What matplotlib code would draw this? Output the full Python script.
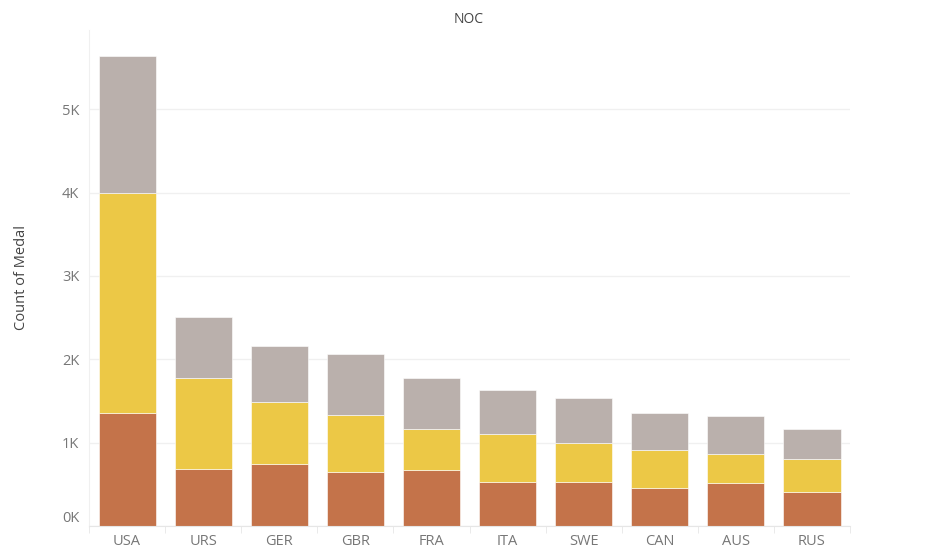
import matplotlib.pyplot as plt
from matplotlib.ticker import FuncFormatter

# medal counts per country (bronze bottom, gold middle, silver top)
countries = ["USA", "URS", "GER", "GBR", "FRA", "ITA", "SWE", "CAN", "AUS", "RUS"]
bronze = [1358, 689, 746, 651, 666, 531, 522, 451, 517, 408]
gold = [2638, 1082, 745, 678, 501, 575, 479, 463, 348, 390]
silver = [1641, 732, 674, 739, 610, 531, 535, 438, 455, 367]

plt.rcParams['font.family'] = ['Open Sans', 'DejaVu Sans']

fig = plt.figure(figsize=(9.47, 5.54), dpi=100)
ax = fig.add_axes([0.094, 0.0505, 0.8036, 0.8955])

x = range(len(countries))
bottom_gold = bronze
bottom_silver = [b + g for b, g in zip(bronze, gold)]

ax.bar(x, bronze, width=0.75, color="#c4734a", edgecolor="white", linewidth=0.4, zorder=2)
ax.bar(x, gold, width=0.75, bottom=bottom_gold, color="#ecc846", edgecolor="white", linewidth=0.4, zorder=2)
ax.bar(x, silver, width=0.75, bottom=bottom_silver, color="#bab0ac", edgecolor="white", linewidth=0.4, zorder=2)

ax.set_xlim(-0.5, len(countries) - 0.5)
ax.set_ylim(0, 5950)
ax.set_yticks([0, 1000, 2000, 3000, 4000, 5000])
ax.yaxis.set_major_formatter(FuncFormatter(lambda v, p: f"{int(v / 1000)}K"))
ax.grid(axis="y", color="#f0f0f0", linewidth=1, zorder=0)

ax.set_xticks(list(x))
ax.set_xticklabels(countries)
# small separators between categories
ax.set_xticks([i - 0.5 for i in range(len(countries) + 1)], minor=True)
ax.tick_params(axis="x", which="major", length=0, pad=6, labelsize=10.5, labelcolor="#777777")
ax.tick_params(axis="x", which="minor", length=5, color="#e6e6e6")
ax.tick_params(axis="y", length=0, pad=7, labelsize=10.5, labelcolor="#777777")
# Tableau keeps the zero label above the baseline
ax.get_yticklabels()[0].set_verticalalignment("bottom")

for s in ["top", "right"]:
    ax.spines[s].set_visible(False)
ax.spines["left"].set_color("#f0f0f0")
ax.spines["bottom"].set_color("#e6e6e6")

ax.set_ylabel("Count of Medal", fontsize=10.5, color="#444444", labelpad=24)
fig.text(0.495, 0.965, "NOC", ha="center", va="center", fontsize=10, color="#444444")

fig.savefig("out.png", dpi=100)
